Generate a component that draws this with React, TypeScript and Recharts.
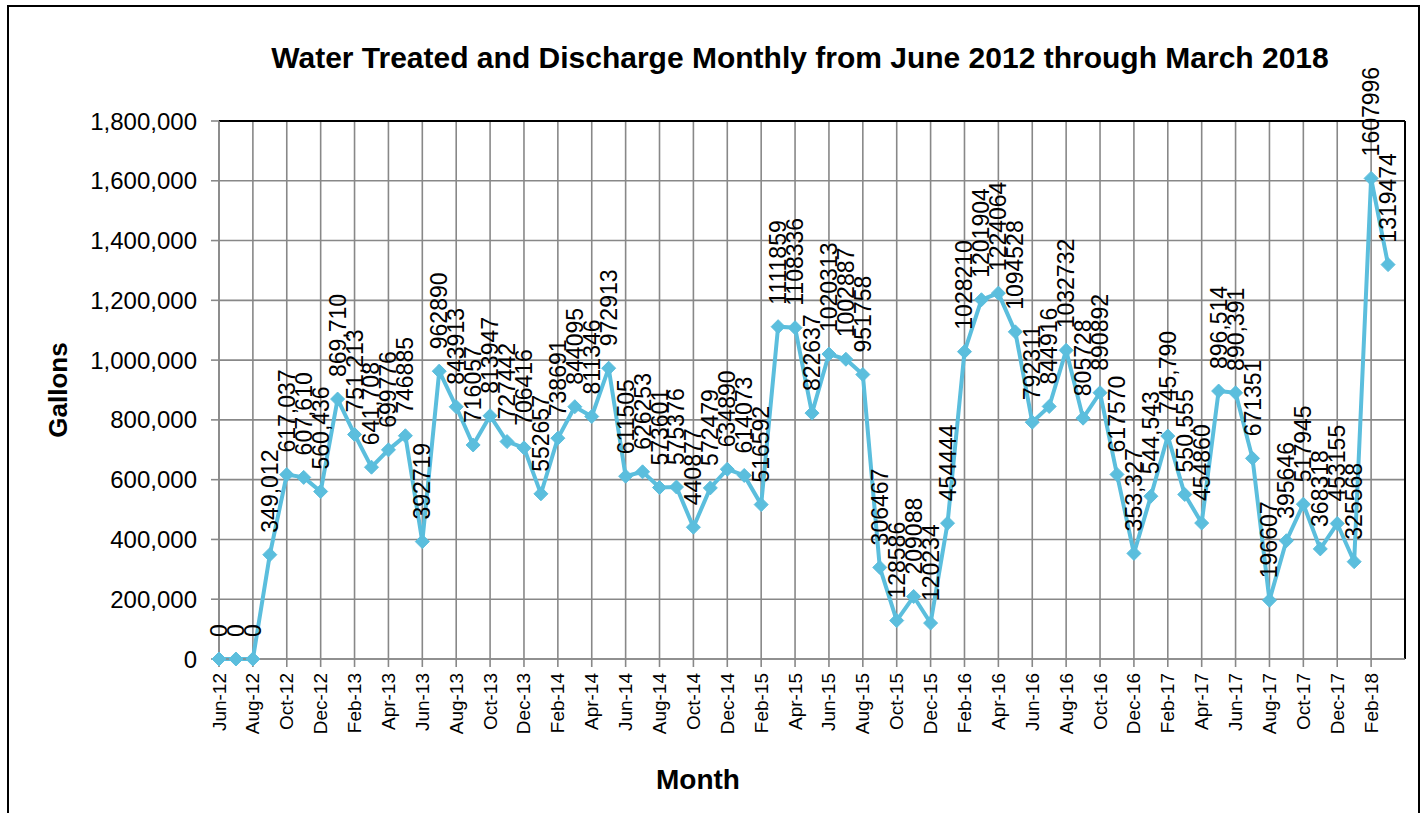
import React from "react";
import {
  LineChart,
  Line,
  XAxis,
  YAxis,
  CartesianGrid,
  LabelList,
  ReferenceLine,
} from "recharts";

// Month names, one per data point (Jun-12 .. Mar-18)
const months: string[] = [
  "Jun-12", "Jul-12", "Aug-12", "Sep-12", "Oct-12", "Nov-12", "Dec-12",
  "Jan-13", "Feb-13", "Mar-13", "Apr-13", "May-13", "Jun-13", "Jul-13", "Aug-13", "Sep-13", "Oct-13", "Nov-13", "Dec-13",
  "Jan-14", "Feb-14", "Mar-14", "Apr-14", "May-14", "Jun-14", "Jul-14", "Aug-14", "Sep-14", "Oct-14", "Nov-14", "Dec-14",
  "Jan-15", "Feb-15", "Mar-15", "Apr-15", "May-15", "Jun-15", "Jul-15", "Aug-15", "Sep-15", "Oct-15", "Nov-15", "Dec-15",
  "Jan-16", "Feb-16", "Mar-16", "Apr-16", "May-16", "Jun-16", "Jul-16", "Aug-16", "Sep-16", "Oct-16", "Nov-16", "Dec-16",
  "Jan-17", "Feb-17", "Mar-17", "Apr-17", "May-17", "Jun-17", "Jul-17", "Aug-17", "Sep-17", "Oct-17", "Nov-17", "Dec-17",
  "Jan-18", "Feb-18", "Mar-18",
];

// Gallons treated and discharged per month
const gallons: number[] = [
  0, 0, 0, 349012, 617037, 607610, 560436,
  869710, 751213, 641708, 699776, 746885, 392719, 962890, 843913, 716057, 813947, 727442, 706416,
  552657, 738691, 844095, 811346, 972913, 611505, 626253, 573601, 575376, 440877, 572479, 634890,
  614073, 516592, 1111859, 1108336, 822637, 1020313, 1002887, 951758, 306467, 128586, 209088, 120234,
  454444, 1028210, 1201904, 1224064, 1094528, 792311, 844916, 1032732, 805728, 890892, 617570, 353327,
  544543, 745790, 550555, 454860, 896514, 890391, 671351, 196607, 395646, 517945, 368318, 453155,
  325568, 1607996, 1319474,
];

// points whose data label is written with thousands separators
const commaLabeled: number[] = [3, 4, 5, 6, 7, 8, 9, 54, 55, 56, 57, 59, 60];

const yTicks: number[] = [0, 200000, 400000, 600000, 800000, 1000000, 1200000, 1400000, 1600000, 1800000];
const xTicks: number[] = months.map((_, i) => i).filter((i) => i % 2 === 0);

const data = months.map((m, i) => ({
  idx: i,
  month: m,
  gallons: gallons[i],
  label: commaLabeled.includes(i) ? gallons[i].toLocaleString("en-US") : String(gallons[i]),
}));

const LINE = "#5BBEDD";
const GRID = "#888888";
const FONT = "'Liberation Sans', Arial, sans-serif";

const Diamond = (props: any) => {
  const { cx, cy, index } = props;
  if (cx == null || cy == null) return null;
  const r = 7;
  return (
    <path
      key={`d-${index}`}
      d={`M${cx},${cy - r} L${cx + r},${cy} L${cx},${cy + r} L${cx - r},${cy} Z`}
      fill={LINE}
      stroke={LINE}
    />
  );
};

const ValueLabel = (props: any) => {
  const { x, y, index } = props;
  const ty = y - 22;
  return (
    <text
      x={x}
      y={ty}
      transform={`rotate(-90 ${x} ${ty})`}
      textAnchor="start"
      dominantBaseline="central"
      fontFamily={FONT}
      fontSize={23}
      fill="#000"
    >
      {data[index].label}
    </text>
  );
};

const MonthTick = (props: any) => {
  const { x, y, payload } = props;
  const ty = y + 4;
  return (
    <text
      x={x}
      y={ty}
      transform={`rotate(-90 ${x} ${ty})`}
      textAnchor="end"
      dominantBaseline="central"
      fontFamily={FONT}
      fontSize={19}
      fill="#000"
    >
      {months[payload.value]}
    </text>
  );
};

export default function App() {
  return (
    <div
      style={{
        position: "absolute",
        left: 0,
        top: 0,
        width: 1425,
        height: 813,
        background: "#fff",
        overflow: "hidden",
        fontFamily: FONT,
      }}
    >
      {/* chart frame */}
      <div
        style={{
          position: "absolute",
          left: 7,
          top: 5,
          width: 1413,
          height: 830,
          border: "2px solid #000",
          boxSizing: "border-box",
        }}
      />
      <div
        style={{
          position: "absolute",
          left: 800,
          top: 58,
          transform: "translate(-50%, -50%)",
          fontWeight: "bold",
          fontSize: 30,
          whiteSpace: "nowrap",
        }}
      >
        Water Treated and Discharge Monthly from June 2012 through March 2018
      </div>
      <div
        style={{
          position: "absolute",
          left: 58,
          top: 390,
          transform: "translate(-50%, -50%) rotate(-90deg)",
          fontWeight: "bold",
          fontSize: 26,
          whiteSpace: "nowrap",
        }}
      >
        Gallons
      </div>
      <div
        style={{
          position: "absolute",
          left: 698,
          top: 780,
          transform: "translate(-50%, -50%)",
          fontWeight: "bold",
          fontSize: 28,
        }}
      >
        Month
      </div>
      <div style={{ position: "absolute", left: 0, top: 0 }}>
        <LineChart
          width={1425}
          height={813}
          data={data}
          margin={{ top: 121, right: 20, bottom: 74, left: 0 }}
        >
          <CartesianGrid stroke={GRID} strokeWidth={1.6} />
          <XAxis
            dataKey="idx"
            type="number"
            domain={[0, 70]}
            ticks={xTicks}
            interval={0}
            height={80}
            tick={<MonthTick />}
            tickSize={8}
            axisLine={{ stroke: GRID, strokeWidth: 1.6 }}
            tickLine={{ stroke: GRID, strokeWidth: 1.6 }}
          />
          <YAxis
            width={219}
            domain={[0, 1800000]}
            ticks={yTicks}
            interval={0}
            tickFormatter={(v: number) => v.toLocaleString("en-US")}
            tick={{ fill: "#000", fontSize: 24, fontFamily: FONT }}
            tickSize={8}
            tickMargin={14}
            axisLine={{ stroke: GRID, strokeWidth: 1.6 }}
            tickLine={{ stroke: GRID, strokeWidth: 1.6 }}
          />
          <ReferenceLine y={1800000} stroke="#000" strokeWidth={2} />
          <ReferenceLine x={70} stroke="#000" strokeWidth={2} />
          <Line
            type="linear"
            dataKey="gallons"
            stroke={LINE}
            strokeWidth={4}
            dot={<Diamond />}
            activeDot={false}
            isAnimationActive={false}
          >
            <LabelList dataKey="label" content={<ValueLabel />} />
          </Line>
        </LineChart>
      </div>
    </div>
  );
}
